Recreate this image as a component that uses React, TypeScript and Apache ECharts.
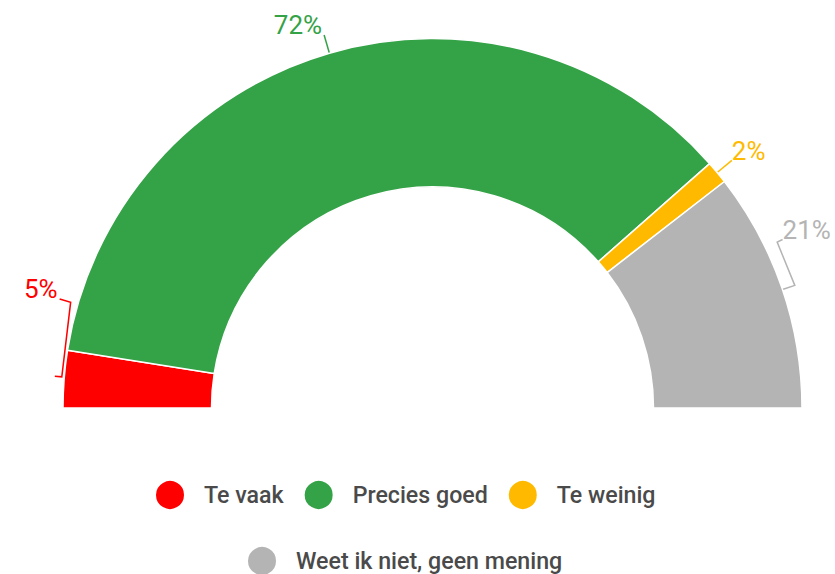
import React, { useEffect, useRef } from 'react';
import * as echarts from 'echarts';

const categories = ['Te vaak', 'Precies goed', 'Te weinig', 'Weet ik niet, geen mening'];
const values = [5, 72, 2, 21];
const colors = ['#ff0000', '#34a246', '#ffba00', '#b4b4b4'];
const legendRow1 = categories.slice(0, 3);
const legendRow2 = categories.slice(3);

// bracket-style label guides in polar terms [angleDeg, offset beyond outer radius]; null = radial line at slice middle
const bracketGuides: (number[][] | null)[] = [
  [[163.7, 19], [163.7, 7.5], [175.2, 2.5], [175.2, 9.5]],
  null,
  null,
  [[25.7, 19], [25.7, 13], [18.7, 13], [18.7, 0]],
];

const W = 835;
const H = 574;
const CX = 432.5;
const CY = 408;
const R_IN = 221;
const R_OUT = 369.5;

function polar(deg: number, r: number): number[] {
  const a = (deg * Math.PI) / 180;
  return [CX + r * Math.cos(a), CY - r * Math.sin(a)];
}

export default function App() {
  const ref = useRef<HTMLDivElement>(null);
  useEffect(() => {
    if (!ref.current) return;
    const chart = echarts.init(ref.current, undefined, { renderer: 'svg' });
    const total = values.reduce((s, v) => s + v, 0);
    const legendCommon = {
      orient: 'horizontal',
      icon: 'circle',
      itemWidth: 30,
      itemHeight: 30,
      itemGap: 19,
      padding: 0,
      textStyle: {
        fontFamily: 'Roboto',
        fontSize: 23.2,
        fontWeight: 500,
        color: '#4a4a4a',
        padding: [0, 0, 0, 14],
      },
    };
    chart.setOption({
      animation: false,
      color: colors,
      legend: [
        { ...legendCommon, data: legendRow1, left: 154, top: 479 },
        { ...legendCommon, data: legendRow2, left: 246, top: 545 },
      ],
      series: [
        {
          type: 'pie',
          center: [CX, CY],
          radius: [R_IN, R_OUT],
          startAngle: 180,
          endAngle: 0,
          avoidLabelOverlap: false,
          itemStyle: { borderColor: '#ffffff', borderWidth: 1.5 },
          emphasis: { disabled: true },
          label: {
            show: true,
            position: 'outside',
            formatter: '{d}%',
            fontFamily: 'Roboto',
            fontSize: 26,
          },
          labelLine: { show: true, length: 10, length2: 0, lineStyle: { width: 1.5 } },
          labelLayout: (params: any) => {
            const i = params.dataIndex;
            let before = 0;
            for (let k = 0; k < i; k++) before += values[k];
            const a0 = 180 - (180 * before) / total;
            const a1 = 180 - (180 * (before + values[i])) / total;
            const mid = (a0 + a1) / 2;
            const guide = bracketGuides[i];
            let pts: number[][];
            let anchor: number[];
            if (guide) {
              pts = guide.map(([a, dr]) => polar(a, R_OUT + dr));
              anchor = pts[0];
            } else {
              pts = [polar(mid, R_OUT), polar(mid, R_OUT + 19)];
              anchor = pts[1];
            }
            const side = anchor[0] < CX ? 'right' : 'left';
            return {
              x: anchor[0] + (side === 'right' ? -2 : 0),
              y: anchor[1] - 9.5,
              align: side,
              verticalAlign: 'middle',
              labelLinePoints: pts,
            };
          },
          data: categories.map((name, i) => ({
            name,
            value: values[i],
            label: { color: colors[i] },
          })),
        },
      ],
    });
    return () => chart.dispose();
  }, []);
  return (
    <div
      ref={ref}
      style={{ position: 'fixed', left: 0, top: 0, width: W, height: H, background: '#ffffff' }}
    />
  );
}
